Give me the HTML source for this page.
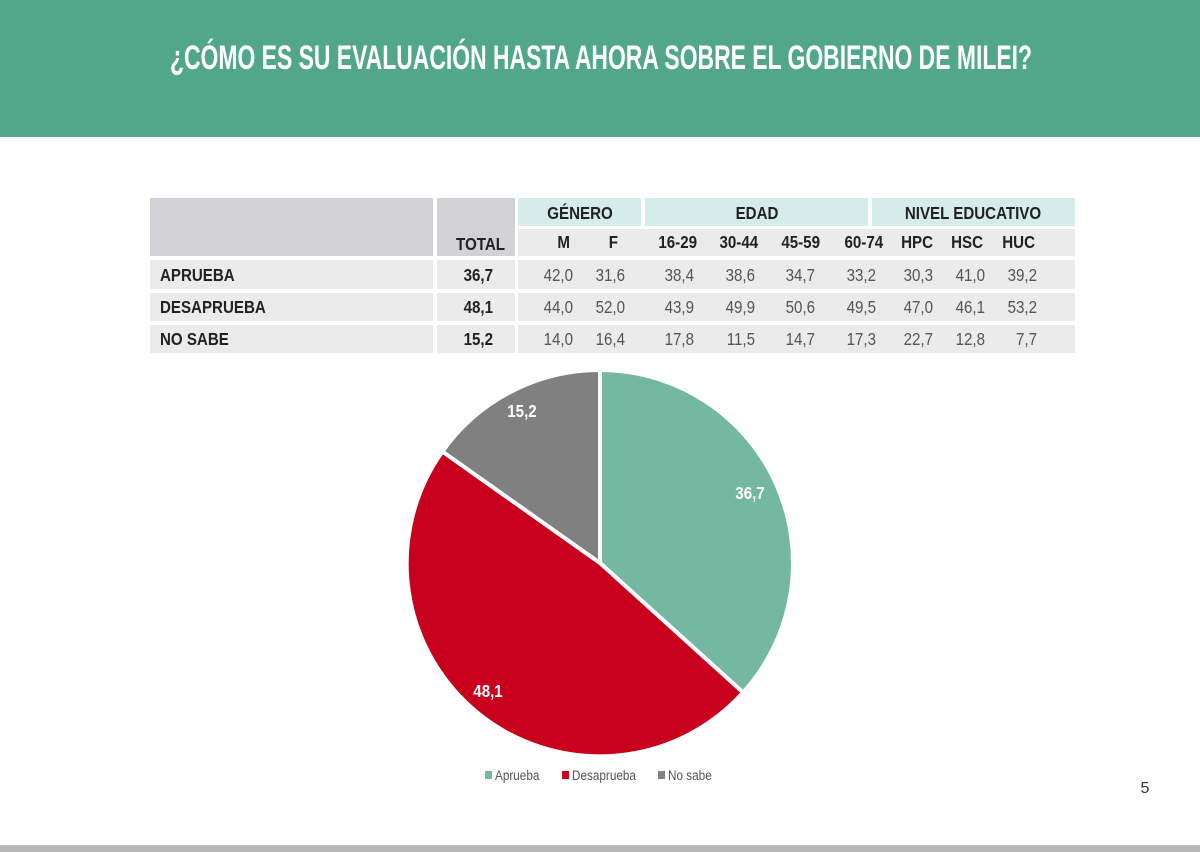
<!DOCTYPE html>
<html><head><meta charset="utf-8"><style>
html,body{margin:0;padding:0;background:#fff;}
svg{display:block;}
text{font-family:"Liberation Sans Narrow","Liberation Sans",sans-serif;}
.b{font-weight:bold;fill:#222;font-size:18px;}
.v{fill:#555;font-size:18px;}
text.e,.v text{transform-box:fill-box;transform-origin:right center;transform:scaleX(.84);}
text.s{transform-box:fill-box;transform-origin:left center;transform:scaleX(.84);}
text.m{transform-box:fill-box;transform-origin:center center;transform:scaleX(.84);}
</style></head><body>
<svg width="1200" height="852" viewBox="0 0 1200 852" xmlns="http://www.w3.org/2000/svg">
<rect x="0" y="0" width="1200" height="137" fill="#52a78a"/>
<text x="170" y="69" font-size="34" font-weight="bold" fill="#fff" textLength="862" lengthAdjust="spacingAndGlyphs">¿CÓMO ES SU EVALUACIÓN HASTA AHORA SOBRE EL GOBIERNO DE MILEI?</text>

<rect x="150" y="198" width="283" height="58" fill="#d2d2d6"/>
<rect x="437" y="198" width="78" height="58" fill="#d2d2d6"/>
<rect x="518" y="198" width="123" height="28" fill="#d6ecea"/>
<rect x="645" y="198" width="223" height="28" fill="#d6ecea"/>
<rect x="872" y="198" width="203" height="28" fill="#d6ecea"/>
<rect x="518" y="229" width="557" height="27" fill="#ebebeb"/>
<text class="b m" x="580" y="219" text-anchor="middle" font-size="17">GÉNERO</text>
<text class="b m" x="757" y="219" text-anchor="middle" font-size="17">EDAD</text>
<text class="b m" x="973" y="219" text-anchor="middle" font-size="17">NIVEL EDUCATIVO</text>
<text class="b e" x="505" y="250" text-anchor="end">TOTAL</text>
<text class="b e" x="570" y="248" text-anchor="end">M</text>
<text class="b e" x="618" y="248" text-anchor="end">F</text>
<text class="b e" x="697" y="248" text-anchor="end">16-29</text>
<text class="b e" x="758" y="248" text-anchor="end">30-44</text>
<text class="b e" x="820" y="248" text-anchor="end">45-59</text>
<text class="b e" x="883" y="248" text-anchor="end">60-74</text>
<text class="b e" x="933" y="248" text-anchor="end">HPC</text>
<text class="b e" x="983" y="248" text-anchor="end">HSC</text>
<text class="b e" x="1035" y="248" text-anchor="end">HUC</text>

<g fill="#ebebeb">
<rect x="150" y="260" width="283" height="29"/><rect x="437" y="260" width="78" height="29"/><rect x="518" y="260" width="557" height="29"/>
<rect x="150" y="293" width="283" height="28"/><rect x="437" y="293" width="78" height="28"/><rect x="518" y="293" width="557" height="28"/>
<rect x="150" y="325" width="283" height="28"/><rect x="437" y="325" width="78" height="28"/><rect x="518" y="325" width="557" height="28"/>
</g>
<text class="b s" x="160" y="281">APRUEBA</text>
<text class="b s" x="160" y="313">DESAPRUEBA</text>
<text class="b s" x="160" y="345">NO SABE</text>
<text class="b e" x="493" y="281" text-anchor="end">36,7</text>
<text class="b e" x="493" y="313" text-anchor="end">48,1</text>
<text class="b e" x="493" y="345" text-anchor="end">15,2</text>
<g class="v" text-anchor="end">
<text x="573" y="281">42,0</text><text x="625" y="281">31,6</text><text x="694" y="281">38,4</text><text x="755" y="281">38,6</text><text x="815" y="281">34,7</text><text x="876" y="281">33,2</text><text x="933" y="281">30,3</text><text x="985" y="281">41,0</text><text x="1037" y="281">39,2</text>
<text x="573" y="313">44,0</text><text x="625" y="313">52,0</text><text x="694" y="313">43,9</text><text x="755" y="313">49,9</text><text x="815" y="313">50,6</text><text x="876" y="313">49,5</text><text x="933" y="313">47,0</text><text x="985" y="313">46,1</text><text x="1037" y="313">53,2</text>
<text x="573" y="345">14,0</text><text x="625" y="345">16,4</text><text x="694" y="345">17,8</text><text x="755" y="345">11,5</text><text x="815" y="345">14,7</text><text x="876" y="345">17,3</text><text x="933" y="345">22,7</text><text x="985" y="345">12,8</text><text x="1037" y="345">7,7</text>
</g>

<g stroke="#fff" stroke-width="4" stroke-linejoin="miter">
<path d="M600,563 L600,370 A193,193 0 0 1 743.1,692.5 Z" fill="#75b8a2"/>
<path d="M600,563 L743.1,692.5 A193,193 0 0 1 442.4,451.5 Z" fill="#c8001e"/>
<path d="M600,563 L442.4,451.5 A193,193 0 0 1 600,370 Z" fill="#808080"/>
</g>
<g font-weight="bold" fill="#fff" font-size="18" text-anchor="middle">
<text class="m" x="750" y="499">36,7</text>
<text class="m" x="488" y="697">48,1</text>
<text class="m" x="522" y="417">15,2</text>
</g>

<rect x="485" y="771" width="7" height="8" fill="#75b8a2"/>
<text class="s" x="495" y="780" font-size="14" fill="#555">Aprueba</text>
<rect x="562" y="771" width="7" height="8" fill="#c8001e"/>
<text class="s" x="572" y="780" font-size="14" fill="#555">Desaprueba</text>
<rect x="658" y="771" width="7" height="8" fill="#808080"/>
<text class="s" x="668" y="780" font-size="14" fill="#555">No sabe</text>

<text x="1145" y="793" font-size="16" fill="#333" text-anchor="middle">5</text>
<rect x="0" y="845" width="1200" height="7" fill="#b8b8b8"/>
</svg>
</body></html>
